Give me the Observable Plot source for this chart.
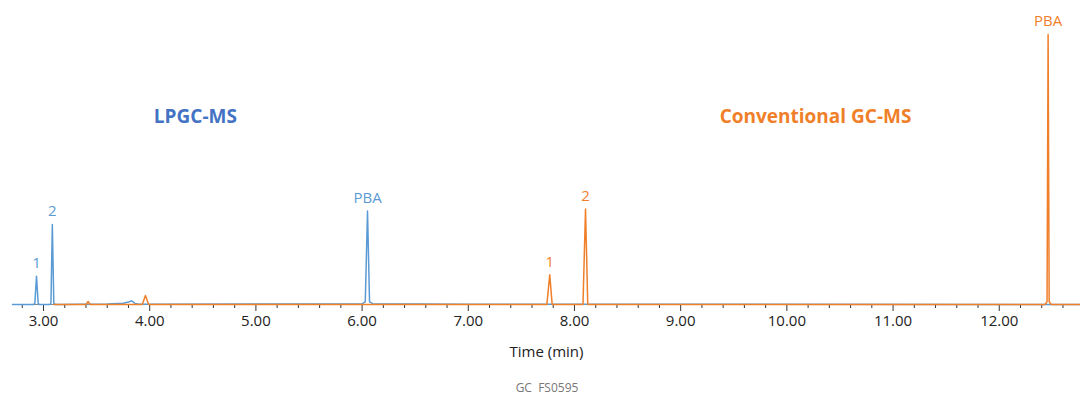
<!DOCTYPE html>
<html>
<head>
<meta charset="utf-8">
<script src="https://cdn.jsdelivr.net/npm/d3@7"></script>
<script src="https://cdn.jsdelivr.net/npm/@observablehq/plot@0.6"></script>
<style>
  html, body { margin: 0; padding: 0; background: #fff; overflow: hidden; }
  #chart { width: 1080px; height: 370px; }
  #chart svg { display: block; }
  #caption { width: 1080px; text-align: center; font-family: "Open Sans", sans-serif; font-size: 12px; line-height: 12px; color: #777; padding-top: 12px; padding-left: 14px; box-sizing: border-box; }
</style>
</head>
<body>
<div id="chart"></div>
<div id="caption">GC&nbsp; FS0595</div>
<script>
// LPGC-MS trace (time in min, relative signal)
const lpgcTime   = [2.708, 2.905, 2.918, 2.934, 2.950, 2.962, 3.060, 3.070, 3.083, 3.097, 3.110, 3.600, 3.750, 3.800, 3.830, 3.860, 3.900, 6.000, 6.030, 6.051, 6.070, 6.100, 7.000, 12.765];
const lpgcSignal = [0, 0, 0.3, 10.5, 0.3, 0, 0, 0.5, 29.6, 0.5, 0, 0.2, 0.5, 0.9, 1.4, 0.4, 0.1, 0.2, 1.0, 34.6, 1.0, 0.3, 0.1, 0];

// Conventional GC-MS trace
const convTime   = [3.100, 3.400, 3.420, 3.440, 3.930, 3.960, 3.990, 7.740, 7.767, 7.790, 8.080, 8.104, 8.125, 12.430, 12.450, 12.460, 12.470, 12.490, 12.765];
const convSignal = [0, 0, 1.1, 0, 0, 3.3, 0, 0, 11.0, 0, 0, 35.4, 0, 0, 1.0, 100, 1.0, 0, 0];

// Peak labels
const lpgcPeakText   = ["1", "2", "PBA"];
const lpgcPeakTime   = [2.934, 3.083, 6.051];
const lpgcPeakHeight = [10.5, 29.6, 34.6];
const convPeakText   = ["1", "2", "PBA"];
const convPeakTime   = [7.767, 8.104, 12.460];
const convPeakHeight = [11.0, 35.4, 100];

// Series names and their annotation anchor (data units)
const seriesNames  = ["LPGC-MS", "Conventional GC-MS"];
const seriesLabelX = [4.43, 10.27];
const seriesLabelY = [69.4, 69.4];

// Axis ticks
const majorTicks = [3, 4, 5, 6, 7, 8, 9, 10, 11, 12];
const minorTicks = [2.8, 3.2, 3.4, 3.6, 3.8, 4.2, 4.4, 4.6, 4.8, 5.2, 5.4, 5.6, 5.8, 6.2, 6.4, 6.6, 6.8, 7.2, 7.4, 7.6, 7.8, 8.2, 8.4, 8.6, 8.8, 9.2, 9.4, 9.6, 9.8, 10.2, 10.4, 10.6, 10.8, 11.2, 11.4, 11.6, 11.8, 12.2, 12.4, 12.6];

const blueLine = "#5b9bd5", blueTitle = "#4472c4", orange = "#f07f2a";

const lpgc = lpgcTime.map((t, i) => ({t, v: lpgcSignal[i]}));
const conv = convTime.map((t, i) => ({t, v: convSignal[i]}));
const lpgcPeaks = lpgcPeakText.map((s, i) => ({s, t: lpgcPeakTime[i], v: lpgcPeakHeight[i]}));
const convPeaks = convPeakText.map((s, i) => ({s, t: convPeakTime[i], v: convPeakHeight[i]}));
const nameL = [{s: seriesNames[0], t: seriesLabelX[0], v: seriesLabelY[0]}];
const nameC = [{s: seriesNames[1], t: seriesLabelX[1], v: seriesLabelY[1]}];

const font = "'Open Sans', sans-serif";

const chart = Plot.plot({
  width: 1080,
  height: 370,
  marginLeft: 12,
  marginRight: 0,
  marginTop: 34,
  marginBottom: 66,
  style: {fontFamily: font, fontSize: "14px", color: "#222", background: "#fff"},
  x: {domain: [2.708, 12.765]},
  y: {domain: [0, 100], axis: null},
  marks: [
    Plot.ruleY([0], {stroke: "#888", strokeWidth: 1}),
    Plot.axisX({ticks: minorTicks, tickSize: 4, tickFormat: () => "", stroke: "#333", label: null}),
    Plot.axisX({ticks: majorTicks, tickSize: 7, tickPadding: 4, tickFormat: d3.format(".2f"), stroke: "#333", fill: "#222", fontSize: 15,
      label: "Time (min)", labelAnchor: "center", labelArrow: "none", labelOffset: 52}),
    Plot.line(lpgc, {x: "t", y: "v", stroke: blueLine, strokeWidth: 1.5}),
    Plot.line(conv, {x: "t", y: "v", stroke: orange, strokeWidth: 1.5}),
    Plot.text(lpgcPeaks, {x: "t", y: "v", text: "s", fill: blueLine, dy: -13, fontSize: 15}),
    Plot.text(convPeaks, {x: "t", y: "v", text: "s", fill: orange, dy: -13, fontSize: 15}),
    Plot.text(nameL, {x: "t", y: "v", text: "s", fill: blueTitle, fontSize: 19, fontWeight: "bold"}),
    Plot.text(nameC, {x: "t", y: "v", text: "s", fill: orange, fontSize: 19, fontWeight: "bold"})
  ]
});
document.getElementById("chart").appendChild(chart);
</script>
</body>
</html>
